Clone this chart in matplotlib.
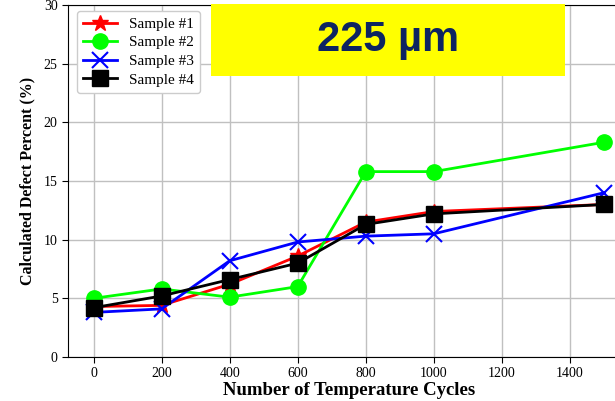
import matplotlib.pyplot as plt
from matplotlib.patches import Rectangle

cycles = [0, 200, 400, 600, 800, 1000, 1500]
sample1 = [4.3, 4.4, 6.2, 8.6, 11.5, 12.4, 13.0]
sample2 = [5.0, 5.8, 5.1, 6.0, 15.8, 15.8, 18.3]
sample3 = [3.8, 4.1, 8.2, 9.8, 10.3, 10.5, 14.0]
sample4 = [4.2, 5.2, 6.6, 8.0, 11.3, 12.2, 13.0]

plt.rcParams['font.family'] = ['Liberation Serif', 'DejaVu Serif']

fig = plt.figure(figsize=(6.15, 4.01), dpi=100)
# 右侧坐标轴超出画布，与原图裁切一致
ax = fig.add_axes([68 / 615, 44 / 401, (629.5 - 68) / 615, 352 / 401])

ax.plot(cycles, sample1, color='red', marker='*', markersize=12, lw=2, label='Sample #1')
ax.plot(cycles, sample2, color='#00ff00', marker='o', markersize=11, lw=2, label='Sample #2')
ax.plot(cycles, sample3, color='blue', marker='x', markersize=11, mew=1.5, lw=2, label='Sample #3')
ax.plot(cycles, sample4, color='black', marker='s', markersize=11, lw=2, label='Sample #4')

ax.set_xlim(-75, 1575)
ax.set_ylim(0, 30)
ax.set_xticks([0, 200, 400, 600, 800, 1000, 1200, 1400])
ax.set_yticks([0, 5, 10, 15, 20, 25, 30])
ax.grid(True, color='#c0c0c0', lw=1)
ax.set_axisbelow(True)
ax.tick_params(labelsize=10, length=4, color='black')
for s in ax.spines.values():
    s.set_color('black')

ax.set_xlabel('Number of Temperature Cycles', fontsize=13.5, fontweight='bold', labelpad=1)
ax.set_ylabel('Calculated Defect Percent (%)', fontsize=11.5, fontweight='bold', labelpad=6)

ax.legend(loc='upper left', fontsize=11, handlelength=2.2, borderpad=0.4,
          labelspacing=0.32, framealpha=1, edgecolor='#cccccc',
          borderaxespad=0.4, bbox_to_anchor=(0.005, 1.0))

# 黄色标签
fig.patches.append(Rectangle((211 / 615, 1 - 75.5 / 401), 354 / 615, 71.5 / 401,
                             transform=fig.transFigure, facecolor='#ffff00',
                             edgecolor='none', zorder=5))
fig.text(388 / 615, 1 - 40 / 401, '225 µm', fontsize=30, fontweight='bold',
         family=['Liberation Sans', 'DejaVu Sans'], color='#0d2461',
         ha='center', va='center', zorder=6)

fig.savefig('out.png', dpi=100)
